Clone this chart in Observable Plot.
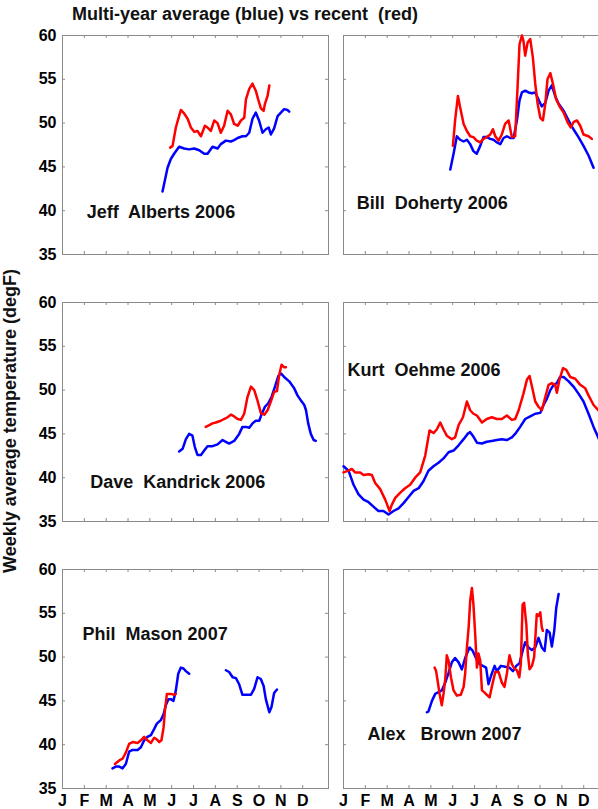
<!DOCTYPE html>
<html><head><meta charset="utf-8">
<script src="https://cdn.jsdelivr.net/npm/d3@7"></script>
<script src="https://cdn.jsdelivr.net/npm/@observablehq/plot@0.6"></script>
<style>
body{margin:0;background:#fff;}
#wrap{position:relative;width:598px;height:809px;overflow:hidden;background:#fff;}
#wrap svg{max-width:none !important;display:block;}
</style></head>
<body><div id="wrap"></div>
<script>
const titleText = "Multi-year average (blue) vs recent  (red)";
const yLabelText = "Weekly average temperature (degF)";
const monthLabels = ["J","F","M","A","M","J","J","A","S","O","N","D"];
const monthTicks = [0,1,2,3,4,5,6,7,8,9,10,11];
const yTicks = [35,40,45,50,55,60];
const yInnerTicks = [40,45,50,55];

// [month since Jan 1, degF]
const jeffBlue = [[4.58,42.2],[4.81,44.9],[4.96,45.9],[5.11,46.5],[5.34,47.3],[5.57,47.1],[5.8,47.0],[6.03,47.1],[6.26,46.9],[6.49,46.5],[6.64,46.5],[6.87,47.3],[7.1,47.1],[7.25,47.6],[7.48,48.0],[7.71,47.9],[7.86,48.05],[8.02,48.3],[8.24,48.5],[8.4,48.5],[8.55,48.9],[8.7,50.5],[8.85,51.2],[9.0,50.3],[9.16,48.9],[9.31,49.3],[9.44,49.5],[9.54,48.7],[9.69,49.4],[9.85,50.8],[10.0,51.2],[10.15,51.6],[10.3,51.5],[10.38,51.3]];
const jeffRed = [[4.93,47.2],[5.04,47.4],[5.19,49.5],[5.42,51.5],[5.57,51.1],[5.73,50.5],[5.88,49.5],[6.03,49.0],[6.18,49.1],[6.34,48.5],[6.52,49.7],[6.64,49.5],[6.79,49.1],[6.95,50.3],[7.1,50.0],[7.25,48.9],[7.4,49.7],[7.56,51.4],[7.71,51.0],[7.86,49.9],[8.02,49.7],[8.17,50.3],[8.32,50.6],[8.4,52.7],[8.55,53.9],[8.7,54.5],[8.85,53.7],[8.96,52.7],[9.08,51.7],[9.21,51.4],[9.27,52.2],[9.39,53.1],[9.47,54.3]];
const billBlue = [[4.89,44.7],[5.04,46.5],[5.19,48.5],[5.34,48.1],[5.5,47.9],[5.65,48.1],[5.8,47.6],[5.95,46.8],[6.1,46.5],[6.26,47.4],[6.41,48.4],[6.56,48.4],[6.72,48.2],[6.87,48.1],[7.02,47.8],[7.18,47.6],[7.33,48.3],[7.48,48.5],[7.63,48.3],[7.79,48.3],[7.94,50.3],[8.06,52.6],[8.17,53.5],[8.32,53.7],[8.47,53.5],[8.63,53.4],[8.78,53.5],[8.93,52.7],[9.08,51.9],[9.24,52.3],[9.39,53.7],[9.54,54.3],[9.69,53.1],[9.85,52.2],[10.08,51.4],[10.31,50.3],[10.53,49.3],[10.76,48.4],[10.99,47.4],[11.22,46.3],[11.45,44.9]];
const billRed = [[5.01,47.4],[5.11,50.3],[5.24,53.1],[5.34,51.8],[5.5,49.9],[5.65,49.1],[5.8,48.5],[5.95,48.4],[6.1,48.0],[6.26,47.8],[6.41,48.2],[6.56,48.4],[6.72,48.7],[6.84,49.3],[6.95,48.5],[7.1,48.0],[7.25,48.7],[7.4,49.9],[7.56,50.3],[7.71,48.4],[7.86,48.5],[7.97,54.1],[8.06,59.0],[8.17,60.0],[8.24,59.4],[8.32,57.7],[8.43,59.2],[8.55,59.6],[8.67,57.5],[8.78,54.5],[8.89,52.2],[9.01,50.6],[9.13,50.3],[9.24,52.2],[9.34,55.0],[9.47,55.7],[9.59,54.5],[9.74,52.7],[9.92,51.8],[10.08,51.2],[10.26,50.1],[10.41,49.5],[10.53,50.1],[10.69,50.3],[10.84,49.7],[10.99,48.7],[11.22,48.5],[11.37,48.2]];
const daveBlue = [[5.34,43.0],[5.5,43.3],[5.65,44.4],[5.8,45.0],[5.95,44.8],[6.06,43.5],[6.18,42.6],[6.34,42.6],[6.49,43.1],[6.64,43.6],[6.87,43.6],[7.1,43.8],[7.33,44.3],[7.48,44.1],[7.63,43.9],[7.86,44.2],[8.09,45.0],[8.24,45.8],[8.4,45.8],[8.55,45.7],[8.7,46.2],[8.85,46.5],[9.01,46.5],[9.11,47.2],[9.27,48.1],[9.42,48.5],[9.57,49.2],[9.73,50.4],[9.88,51.6],[10.0,51.9],[10.15,51.5],[10.38,51.0],[10.61,50.2],[10.76,49.4],[10.92,48.8],[11.07,48.3],[11.15,47.7],[11.25,46.2],[11.37,45.0],[11.5,44.3],[11.6,44.2]];
const daveRed = [[6.56,45.8],[6.72,46.0],[6.87,46.2],[7.02,46.3],[7.25,46.5],[7.4,46.7],[7.56,46.9],[7.71,47.2],[7.86,47.0],[8.02,46.7],[8.17,46.6],[8.32,47.3],[8.47,49.2],[8.63,50.4],[8.78,50.0],[8.93,48.8],[9.08,47.4],[9.24,47.2],[9.39,47.7],[9.54,48.7],[9.69,49.8],[9.82,49.9],[9.92,51.7],[10.03,52.9],[10.15,52.6],[10.23,52.6]];
const kurtBlue = [[0,41.3],[0.23,40.8],[0.46,39.2],[0.69,38.1],[0.92,37.5],[1.15,37.2],[1.37,36.7],[1.6,36.2],[1.83,36.2],[2.06,35.8],[2.29,36.2],[2.52,36.5],[2.75,37.1],[2.98,37.8],[3.21,38.5],[3.44,38.8],[3.66,39.6],[3.89,40.8],[4.12,41.3],[4.35,41.7],[4.58,42.2],[4.81,42.9],[5.04,43.1],[5.27,43.7],[5.5,44.4],[5.68,45.0],[5.8,45.2],[5.92,44.8],[6.11,44.0],[6.34,43.9],[6.56,44.1],[6.79,44.2],[7.02,44.3],[7.25,44.4],[7.48,44.3],[7.71,44.6],[7.86,45.0],[8.09,45.8],[8.32,46.7],[8.55,47.0],[8.78,47.3],[9.01,47.4],[9.16,48.3],[9.31,49.0],[9.47,50.0],[9.62,50.6],[9.77,50.8],[9.92,51.5],[10.08,51.5],[10.31,51.0],[10.53,50.4],[10.76,49.6],[10.99,48.7],[11.22,47.3],[11.45,45.8],[11.7,44.4]];
const kurtRed = [[0,40.6],[0.23,40.8],[0.38,41.0],[0.53,40.6],[0.76,40.6],[0.92,40.3],[1.15,40.4],[1.3,40.3],[1.45,39.4],[1.68,38.7],[1.91,37.5],[2.11,36.2],[2.21,36.9],[2.37,37.7],[2.6,38.3],[2.82,38.8],[3.05,39.2],[3.28,40.0],[3.51,40.6],[3.74,42.5],[3.94,45.4],[4.12,45.1],[4.27,45.5],[4.43,46.3],[4.58,45.5],[4.73,44.8],[4.96,44.4],[5.11,44.6],[5.27,46.0],[5.47,46.9],[5.65,48.7],[5.8,47.7],[5.95,47.3],[6.11,47.1],[6.34,46.3],[6.56,46.7],[6.79,46.9],[7.02,46.7],[7.25,46.7],[7.48,47.1],[7.71,46.6],[7.86,46.7],[8.02,47.7],[8.24,49.6],[8.4,51.2],[8.52,51.6],[8.63,50.4],[8.78,48.7],[8.93,48.1],[9.08,47.7],[9.24,49.2],[9.39,50.6],[9.54,50.8],[9.69,50.6],[9.77,49.7],[9.89,51.2],[10.05,52.5],[10.2,52.3],[10.38,51.5],[10.61,51.3],[10.84,50.6],[11.07,50.2],[11.22,49.4],[11.45,48.3],[11.7,47.6]];
const philBlueSpring = [[2.29,37.3],[2.44,37.5],[2.6,37.5],[2.75,37.3],[2.9,37.8],[3.05,39.2],[3.21,39.4],[3.44,39.4],[3.59,39.7],[3.74,40.5],[3.89,40.9],[4.05,41.1],[4.2,41.8],[4.32,42.4],[4.5,42.8],[4.63,43.5],[4.73,44.5],[4.85,45.2],[4.96,45.2],[5.08,45.0],[5.19,46.2],[5.3,48.1],[5.42,48.8],[5.54,48.7],[5.65,48.4],[5.8,48.1]];
const philBlueFall = [[7.48,48.5],[7.63,48.3],[7.79,47.7],[7.94,47.6],[8.09,46.9],[8.24,45.7],[8.4,45.7],[8.63,45.7],[8.78,46.4],[8.93,47.7],[9.08,47.5],[9.21,46.7],[9.31,45.2],[9.47,43.7],[9.57,44.3],[9.69,45.9],[9.82,46.3]];
const philRed = [[2.4,37.8],[2.6,38.2],[2.75,38.4],[2.9,39.1],[3.05,40.1],[3.21,40.3],[3.44,40.2],[3.59,40.5],[3.74,40.9],[3.89,40.5],[4.05,40.2],[4.2,40.8],[4.32,40.6],[4.43,40.3],[4.53,40.5],[4.63,42.0],[4.69,43.9],[4.78,45.8],[4.96,45.8],[5.11,45.7],[5.19,45.8]];
const alexBlue = [[3.82,43.7],[3.89,43.8],[4.05,45.0],[4.2,45.8],[4.35,46.0],[4.5,46.2],[4.66,47.1],[4.81,48.2],[4.96,49.4],[5.11,49.9],[5.27,49.4],[5.42,48.6],[5.57,49.9],[5.77,51.1],[5.92,50.7],[6.08,49.8],[6.23,49.2],[6.38,49.0],[6.53,48.8],[6.64,46.9],[6.76,47.9],[6.92,49.0],[7.02,48.4],[7.21,49.0],[7.4,48.9],[7.6,48.8],[7.76,48.4],[7.91,49.0],[8.06,49.3],[8.21,50.8],[8.32,51.7],[8.47,51.1],[8.63,50.8],[8.78,51.1],[8.93,52.2],[9.08,51.1],[9.21,50.7],[9.31,53.1],[9.44,52.8],[9.54,51.2],[9.65,53.0],[9.74,55.6],[9.85,57.2]];
const alexRed = [[4.17,48.8],[4.24,48.4],[4.31,47.3],[4.4,45.8],[4.5,44.5],[4.58,45.8],[4.66,47.5],[4.73,50.2],[4.81,49.6],[4.92,47.7],[5.04,46.2],[5.19,45.6],[5.37,45.7],[5.5,46.6],[5.57,48.1],[5.65,51.1],[5.73,53.4],[5.8,56.4],[5.88,57.9],[5.95,56.0],[6.03,52.6],[6.11,48.8],[6.18,50.4],[6.26,49.6],[6.34,46.2],[6.44,46.0],[6.56,45.7],[6.69,45.4],[6.79,46.6],[6.95,48.3],[7.1,48.3],[7.25,47.1],[7.37,46.6],[7.48,48.1],[7.6,50.2],[7.71,49.2],[7.82,48.7],[7.94,48.5],[8.05,47.7],[8.12,49.2],[8.2,56.0],[8.27,56.2],[8.37,53.8],[8.44,50.4],[8.52,48.6],[8.63,49.0],[8.73,50.0],[8.85,54.9],[8.93,54.7],[9.01,55.1],[9.08,53.4],[9.13,53.0]];

const panelNames = ["Jeff  Alberts 2006","Bill  Doherty 2006","Dave  Kandrick 2006","Kurt  Oehme 2006","Phil  Mason 2007","Alex   Brown 2007"];
const panelCols = [0,1,0,1,0,1];
const panelRows = [0,0,1,1,2,2];
const labelAt = [[1.11,39.8],[0.61,40.9],[1.27,39.5],[0.18,52.3],[0.92,52.6],[1.1,41.25]];
const blueSeries = [[jeffBlue],[billBlue],[daveBlue],[kurtBlue],[philBlueSpring,philBlueFall],[alexBlue]];
const redSeries = [[jeffRed],[billRed],[daveRed],[kurtRed],[philRed],[alexRed]];

const rows = [];
panelNames.forEach((name,i)=>{
  blueSeries[i].forEach((seg,j)=>seg.forEach(([m,v])=>rows.push({col:panelCols[i],row:panelRows[i],m,v,kind:"blue",key:`${i}-b-${j}`})));
  redSeries[i].forEach((seg,j)=>seg.forEach(([m,v])=>rows.push({col:panelCols[i],row:panelRows[i],m,v,kind:"red",key:`${i}-r-${j}`})));
});
const labels = panelNames.map((name,i)=>({name,col:panelCols[i],row:panelRows[i],m:labelAt[i][0],v:labelAt[i][1]}));

const W = 625, H = 809, ML = 62, MR = 16, MT = 34, MB = 21;
const pX = 0.0534, pY = 0.1813;
const bw = (W-ML-MR)*(1-pX)/(2-pX);
const bh = (H-MT-MB)*(1-pY)/(3-pY);
const font = "'Liberation Sans', Arial, Helvetica, sans-serif";
const frameColor = "#8a8a8a";

const plot = Plot.plot({
  width: W, height: H,
  marginLeft: ML, marginRight: MR, marginTop: MT, marginBottom: MB,
  style: {fontFamily: font, fontWeight: "bold", fontSize: "16px", color: "#000", background: "#fff", maxWidth: "none"},
  fx: {domain: [0,1], paddingInner: pX, paddingOuter: 0, axis: null},
  fy: {domain: [0,1,2], paddingInner: pY, paddingOuter: 0, axis: null},
  x: {domain: [0, 12.18]},
  y: {domain: [35, 60]},
  color: {domain: ["blue","red"], range: ["#1616b4","#dc1c1c"]},
  marks: [
    Plot.frame({stroke: frameColor, strokeWidth: 1}),
    Plot.ruleX(monthTicks, {x: d=>d, insetTop: bh-3, stroke: frameColor}),
    Plot.ruleX(monthTicks, {x: d=>d, insetBottom: bh-3, stroke: frameColor}),
    Plot.ruleY(yInnerTicks, {y: d=>d, insetRight: bw-3, stroke: frameColor}),
    Plot.ruleY(yInnerTicks, {y: d=>d, insetLeft: bw-3, stroke: frameColor}),
    Plot.axisY({anchor: "left", ticks: yTicks, tickSize: 0, tickPadding: 6, label: null, facetAnchor: "left", fontSize: 16, fontWeight: "bold"}),
    Plot.axisX({anchor: "bottom", ticks: monthTicks, tickFormat: d=>monthLabels[d], tickSize: 0, tickPadding: 6, label: null, facetAnchor: "bottom", fontSize: 16, fontWeight: "bold"}),
    Plot.line(rows, {x: "m", y: "v", z: "key", stroke: "kind", fx: "col", fy: "row", strokeWidth: 2.5, curve: "linear"}),
    Plot.text(labels, {x: "m", y: "v", text: "name", fx: "col", fy: "row", textAnchor: "start", fontSize: 18, fontWeight: "bold", fill: "#111"})
  ]
});

const svg = d3.select(plot);
svg.append("text").attr("x", 72).attr("y", 20).attr("text-anchor", "start").attr("font-size", 18).attr("font-weight", "bold").attr("fill", "#111").style("white-space","pre").text(titleText);
svg.append("text").attr("transform", "translate(16,421) rotate(-90)").attr("text-anchor", "middle").attr("font-size", 18).attr("font-weight", "bold").attr("fill", "#111").text(yLabelText);
document.getElementById("wrap").appendChild(plot);
</script>
</body></html>
